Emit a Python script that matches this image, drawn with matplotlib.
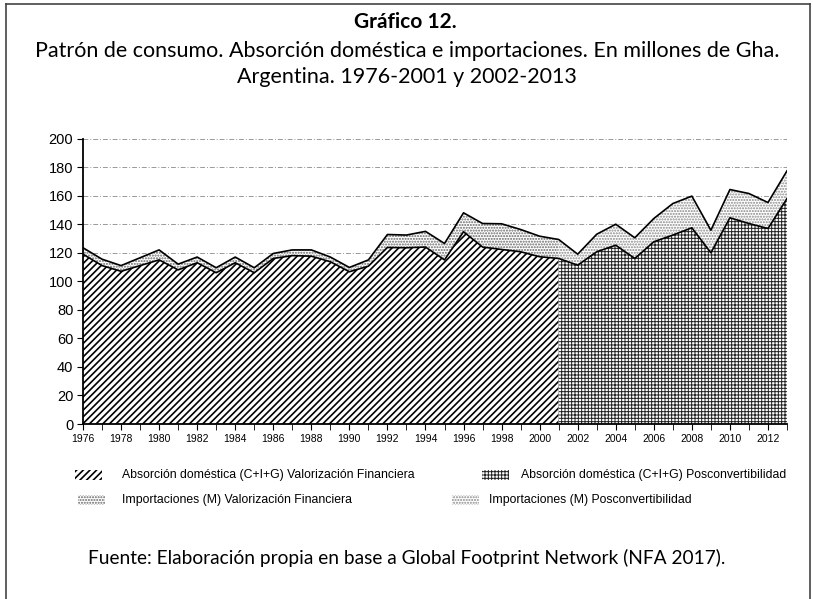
import matplotlib
matplotlib.use("Agg")
import matplotlib.pyplot as plt
import numpy as np
from matplotlib.lines import Line2D
from matplotlib.patches import Rectangle

years = list(range(1976, 2014))
total = [123.5, 115.5, 111, 116.5, 122, 112, 117, 109.5, 117, 109.5,
         119.5, 122, 122, 117, 109.7, 115, 132.8, 132.4, 135, 126.5,
         148, 140.5, 140.3, 136.3, 131.6, 129.3, 119, 133, 140, 130.5,
         144, 154.5, 159.7, 135.8, 164.3, 161.5, 155.2, 177.4]
domestic = [119, 111, 107, 111, 115, 108, 113, 106, 113, 106,
            116, 118, 117.6, 113.7, 106.7, 110.6, 123.7, 123.5, 124, 115,
            134.7, 124, 122.3, 120.7, 117.2, 116, 111.3, 120.7, 125.3, 116,
            127.7, 132.4, 137.5, 120, 144.5, 140.5, 137, 158]
split_year = 2001

yt = list(range(0, 201, 20))
xt = list(range(1976, 2013, 2))

legend_labels = [
    "Absorción doméstica (C+I+G) Valorización Financiera",
    "Importaciones (M) Valorización Financiera",
    "Absorción doméstica (C+I+G) Posconvertibilidad",
    "Importaciones (M) Posconvertibilidad",
]

title = "Gráfico 12."
subtitle1 = "Patrón de consumo. Absorción doméstica e importaciones. En millones de Gha."
subtitle2 = "Argentina. 1976-2001 y 2002-2013"
source = "Fuente: Elaboración propia en base a Global Footprint Network (NFA 2017)."

HATCH_DIAG = '/////'
HATCH_CROSS = '+++++'
HATCH_DOTS = '......'
C_DIAG = 'black'
C_CROSS = '#222222'
C_DOT_VF = '#666666'
C_DOT_PC = '#888888'

plt.rcParams['font.family'] = ['Liberation Sans', 'DejaVu Sans']

fig = plt.figure(figsize=(8.13, 5.99), dpi=100)
ax = fig.add_axes([83/813, 1-424/599, (787-83)/813, (424-138.6)/599])

x = np.array(years)
tot = np.array(total)
dom = np.array(domestic)
m1 = x <= split_year
m2 = x >= split_year

with plt.rc_context({'hatch.linewidth': 1.2}):
    ax.fill_between(x[m1], 0, dom[m1], facecolor='white', edgecolor=C_DIAG,
                    hatch=HATCH_DIAG, linewidth=0)
with plt.rc_context({'hatch.linewidth': 0.7}):
    ax.fill_between(x[m2], 0, dom[m2], facecolor='white', edgecolor=C_CROSS,
                    hatch=HATCH_CROSS, linewidth=0)
with plt.rc_context({'hatch.linewidth': 1.0}):
    ax.fill_between(x[m1], dom[m1], tot[m1], facecolor='white', edgecolor=C_DOT_VF,
                    hatch=HATCH_DOTS, linewidth=0)
    ax.fill_between(x[m2], dom[m2], tot[m2], facecolor='white', edgecolor=C_DOT_PC,
                    hatch=HATCH_DOTS, linewidth=0)
ax.plot(x, dom, color='black', lw=1.2)
ax.plot(x, tot, color='black', lw=1.2)

ax.set_xlim(1976, 2013)
ax.set_ylim(0, 200)
ax.set_yticks(yt)
ax.set_xticks(xt)
ax.set_xticks(years, minor=True)
ax.tick_params(axis='y', labelsize=10.5, length=4, direction='out', pad=3)
ax.tick_params(axis='x', which='both', labelsize=7.5, length=4, direction='out', pad=3)
ax.grid(axis='y', linestyle=(0, (5, 2, 1, 2)), color='#999999', linewidth=0.7)
ax.set_axisbelow(True)
for s in ['top', 'right']:
    ax.spines[s].set_visible(False)
for s in ['left', 'bottom']:
    ax.spines[s].set_linewidth(1.3)

# legend entries (positioned individually as in the reference)
leg_specs = [
    (75, 475, 122, HATCH_DIAG, C_DIAG, 1.2),
    (78, 500, 122, HATCH_DOTS, C_DOT_VF, 1.0),
    (482, 475, 521, HATCH_CROSS, C_CROSS, 0.7),
    (452, 500, 489, HATCH_DOTS, C_DOT_PC, 1.0),
]
for (px, py, tx, h, c, hl), lab in zip(leg_specs, legend_labels):
    with plt.rc_context({'hatch.linewidth': hl}):
        r = Rectangle((px/813, 1-(py+5)/599), 27/813, 10/599, transform=fig.transFigure,
                      facecolor='white', edgecolor=c, hatch=h, linewidth=0)
    fig.add_artist(r)
    fig.text(tx/813, 1-py/599, lab, ha='left', va='center', fontsize=8.8)

tf = ['Lato', 'DejaVu Sans']
fig.text(405/813, 1-22/599, title, ha='center', va='center', fontsize=15,
         fontweight='bold', family=tf)
fig.text(407/813, 1-51/599, subtitle1, ha='center', va='center', fontsize=15.5, family=tf)
fig.text(407/813, 1-77/599, subtitle2, ha='center', va='center', fontsize=15.5, family=tf)
fig.text(407/813, 1-558/599, source, ha='center', va='center', fontsize=13.8, family=tf)

# outer frame
fr = dict(color='#444444', lw=1.2, transform=fig.transFigure)
fig.add_artist(Line2D([6/813, 6/813], [0, 1-4/599], **fr))
fig.add_artist(Line2D([6/813, 810/813], [1-4/599, 1-4/599], **fr))
fig.add_artist(Line2D([810/813, 810/813], [0, 1-4/599], **fr))

fig.savefig('out.png', dpi=100)
